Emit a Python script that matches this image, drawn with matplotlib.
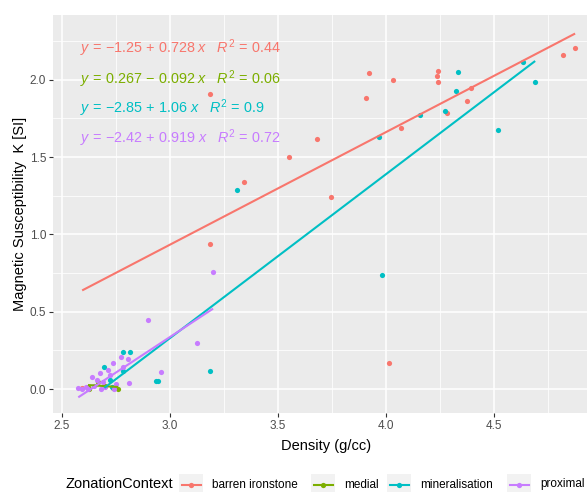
import matplotlib
matplotlib.use("Agg")
import matplotlib.pyplot as plt
import numpy as np
from matplotlib.patches import Rectangle
from matplotlib.lines import Line2D

plt.rcParams['font.family'] = ['Liberation Sans', 'DejaVu Sans']
plt.rcParams['mathtext.fontset'] = 'custom'
plt.rcParams['mathtext.rm'] = 'Liberation Sans'
plt.rcParams['mathtext.it'] = 'Liberation Sans:italic'

# data
groups = ["barren ironstone", "medial", "mineralisation", "proximal"]
colours = ["#F8766D", "#7CAE00", "#00BFC4", "#C77CFF"]

barren_x = [2.593, 3.185, 3.185, 3.343, 3.551, 3.679, 3.745, 3.907, 3.923, 4.014,
            4.034, 4.068, 4.235, 4.239, 4.239, 4.281, 4.376, 4.395, 4.821, 4.875]
barren_y = [0.005, 1.908, 0.938, 1.339, 1.50, 1.617, 1.244, 1.880, 2.042, 0.168,
            1.999, 1.690, 2.025, 2.057, 1.984, 1.783, 1.863, 1.945, 2.160, 2.208]

medial_x = [2.62, 2.625, 2.665, 2.70, 2.735, 2.76]
medial_y = [0.015, 0.0, 0.043, 0.02, 0.005, 0.0]

mineral_x = [2.696, 2.73, 2.781, 2.781, 2.815, 2.72, 2.935, 2.945, 3.185, 3.31,
             3.969, 3.981, 4.157, 4.273, 4.324, 4.335, 4.517, 4.633, 4.69]
mineral_y = [0.144, 0.011, 0.237, 0.118, 0.241, 0.057, 0.052, 0.052, 0.116, 1.287,
             1.632, 0.737, 1.774, 1.796, 1.925, 2.048, 1.677, 2.117, 1.986]

proximal_x = [2.575, 2.59, 2.61, 2.62, 2.637, 2.65, 2.66, 2.676, 2.68, 2.69, 2.70, 2.714,
              2.722, 2.735, 2.74, 2.75, 2.773, 2.78, 2.807, 2.812, 2.9, 2.957, 3.124, 3.199]
proximal_y = [0.005, 0.0, 0.01, 0.0, 0.08, 0.02, 0.06, 0.101, 0.0, 0.045, 0.01, 0.123,
              0.091, 0.166, 0.0, 0.03, 0.209, 0.14, 0.192, 0.041, 0.446, 0.112, 0.295, 0.757]

# fitted lines as printed on the chart
intercepts = [-1.25, 0.267, -2.85, -2.42]
slopes = [0.728, -0.092, 1.06, 0.919]
r_squared = [0.44, 0.06, 0.9, 0.72]

xs = [barren_x, medial_x, mineral_x, proximal_x]
ys = [barren_y, medial_y, mineral_y, proximal_y]

W, H = 587, 492
fig = plt.figure(figsize=(W / 100, H / 100), dpi=100)
fig.patch.set_facecolor("white")
ax = fig.add_axes([53 / W, 1 - 413 / H, (W - 53) / W, (413 - 15) / H])
ax.set_facecolor("#EBEBEB")
for s in ax.spines.values():
    s.set_visible(False)

ax.set_xlim(2.458, 4.93)
ax.set_ylim(-0.155, 2.419)
ax.set_xticks([2.5, 3.0, 3.5, 4.0, 4.5])
ax.set_yticks([0.0, 0.5, 1.0, 1.5, 2.0])
ax.set_xticks(np.arange(2.75, 5.0, 0.5), minor=True)
ax.set_yticks(np.arange(0.25, 2.5, 0.5), minor=True)
ax.grid(True, which="major", color="white", linewidth=1.1)
ax.grid(True, which="minor", color="white", linewidth=0.55)
ax.set_axisbelow(True)
ax.tick_params(which="major", length=3, width=0.8, color="#333333",
               labelcolor="#4D4D4D", labelsize=8.5, pad=2)
ax.tick_params(which="minor", length=0)

for i in range(4):
    ax.scatter(xs[i], ys[i], s=14, color=colours[i], linewidths=0, zorder=2)
    lx = np.array([min(xs[i]), max(xs[i])])
    ax.plot(lx, intercepts[i] + slopes[i] * lx, color=colours[i], lw=1.5,
            zorder=3, solid_capstyle="butt")

# equation labels
baselines = [53, 84, 113, 143]
for i in range(4):
    a = f"{intercepts[i]:.3g}".replace("-", "{-}")
    b = slopes[i]
    sign = "+" if b >= 0 else "-"
    txt = (rf"$y\,=\,{a}\,{sign}\,{abs(b):.3g}\;x\quad"
           rf"R^2\,=\,{r_squared[i]:.2g}$")
    ax.text((80 - 53) / (W - 53), (413 - baselines[i]) / (413 - 15), txt,
            transform=ax.transAxes, color=colours[i], fontsize=10.4,
            ha="left", va="baseline")

fig.text(326 / W, 1 - 446 / H, "Density (g/cc)", ha="center", va="center",
         fontsize=10.5, color="black")
fig.text(20.5 / W, 1 - 214 / H, "Magnetic Susceptibility  K [SI]", ha="center",
         va="center", rotation=90, fontsize=10.5, color="black")

# legend along the bottom
ly = 1 - 484.5 / H
fig.text(65.5 / W, ly, "ZonationContext", ha="left", va="center", fontsize=10.5)
key_left = [179, 311, 387, 507]
for i in range(4):
    kx = key_left[i]
    fig.patches.append(Rectangle((kx / W, 1 - 497 / H), 24 / W, 23 / H,
                                 transform=fig.transFigure, facecolor="#F2F2F2",
                                 edgecolor="none"))
    fig.lines.append(Line2D([(kx + 2.5) / W, (kx + 21.5) / W], [ly, ly],
                            transform=fig.transFigure, color=colours[i], lw=1.5))
    fig.lines.append(Line2D([(kx + 12) / W], [ly], transform=fig.transFigure,
                            color=colours[i], marker="o", markersize=3.8,
                            markeredgewidth=0))
    fig.text((kx + 33) / W, ly, groups[i], ha="left", va="center", fontsize=8.5)

fig.savefig("out.png", dpi=100)
